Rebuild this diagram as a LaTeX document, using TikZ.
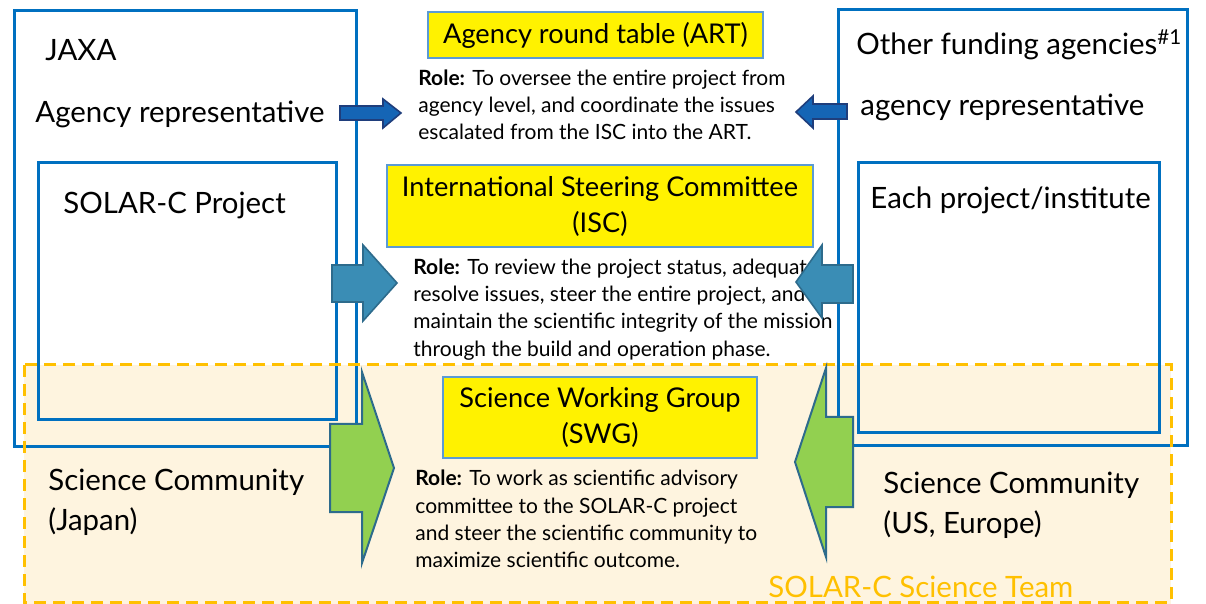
\documentclass[tikz,border=0pt]{standalone}
\usepackage{fontspec}
\setmainfont{Lato}
\definecolor{boxblue}{HTML}{0070C0}
\definecolor{teamorange}{HTML}{FFC000}
\definecolor{teamfill}{HTML}{FEF4DF}
\definecolor{iscfill}{HTML}{3A8DB5}
\definecolor{arrowedge}{HTML}{2D6B8C}
\definecolor{artfill}{HTML}{1565B5}
\definecolor{artedge}{HTML}{1F3E7C}
\definecolor{leafgreen}{HTML}{92D050}
\definecolor{titleedge}{HTML}{5B9BD5}
\begin{document}
\begin{tikzpicture}[x=0.5pt,y=-0.5pt,
  orgbox/.style={draw=boxblue,line width=1.5pt},
  teambox/.style={draw=teamorange,line width=1.5pt,dash pattern=on 6pt off 3.5pt},
  big/.style={inner sep=0pt,font=\fontsize{14.7}{20}\selectfont},
  role/.style={inner sep=0pt,align=left,font=\fontsize{10.5}{13.6}\selectfont},
  titlebox/.style={draw=titleedge,line width=0.6pt,fill=yellow,align=center,
    inner sep=0pt,font=\fontsize{13.6}{18}\selectfont},
  artarrow/.style={fill=artfill,draw=artedge,line width=0.8pt,line join=miter},
  iscarrow/.style={fill=iscfill,draw=arrowedge,line width=0.8pt,line join=miter},
  swgarrow/.style={fill=leafgreen,draw=arrowedge,line width=1pt,line join=miter}]
\useasboundingbox (0,0) rectangle (1206,604);
\fill[white] (0,0) rectangle (1206,604);

% science team area
\fill[teamfill] (24,365) rectangle (1171,604);

% organisation boxes
\draw[orgbox] (14,11) rectangle (356,447);
\draw[orgbox] (38,163) rectangle (336,420);
\draw[orgbox] (838,10) rectangle (1187,446);
\draw[orgbox] (858,163) rectangle (1159,433);

\draw[teambox] (24,365) rectangle (1171,602);

% organisation labels
\node[big,anchor=west] (jaxa) at (45,50) {JAXA};
\node[big,anchor=west] (jaxarep) at (35,114) {Agency representative};
\node[big,anchor=west] (solarc) at (63,205) {SOLAR-C Project};
\node[big,anchor=west] (other) at (856,45) {Other funding agencies\textsuperscript{\#1}};
\node[big,anchor=west] (otherrep) at (860,107) {agency representative};
\node[big,anchor=west] (each) at (870,200) {Each project/institute};
\node[big,anchor=west,align=left] (scjp) at (48,502) {Science Community\\(Japan)};
\node[big,anchor=west,align=left] (sceu) at (883,505) {Science Community\\(US, Europe)};
\node[big,anchor=base west,text=teamorange] (team) at (768,597) {SOLAR-C Science Team};

% committees
\node[titlebox,minimum width=167.5pt,minimum height=23pt] (art) at (595.5,35)
  {Agency round table (ART)};
\node[role,anchor=west] (artrole) at (418,105)
  {\textbf{Role:} To oversee the entire project from\\
   agency level, and coordinate the issues\\
   escalated from the ISC into the ART.};

\node[titlebox,minimum width=213pt,minimum height=41pt] (isc) at (600,206)
  {International Steering Committee\\(ISC)};
\node[role,anchor=west] (iscrole) at (413,309.5)
  {\textbf{Role:} To review the project status, adequat\\
   resolve issues, steer the entire project, and\\
   maintain the scientific integrity of the mission\\
   through the build and operation phase.};

\node[titlebox,minimum width=157pt,minimum height=40.5pt] (swg) at (600,417.5)
  {Science Working Group\\(SWG)};
\node[role,anchor=west] (swgrole) at (415,519)
  {\textbf{Role:} To work as scientific advisory\\
   committee to the SOLAR-C project\\
   and steer the scientific community to\\
   maximize scientific outcome.};

% arrows to the agency round table
\draw[artarrow] (340,106) -- (383,106) -- (383,99) -- (401,113) -- (383,128)
  -- (383,120) -- (340,120) -- cycle;
\draw[artarrow] (847,104) -- (813,104) -- (813,96) -- (796,112) -- (813,128)
  -- (813,119) -- (847,119) -- cycle;

% arrows to the steering committee
\draw[iscarrow] (332,265) -- (363,265) -- (363,245) -- (397,283) -- (363,321)
  -- (363,302) -- (332,302) -- cycle;
\draw[iscarrow] (853,265) -- (822,265) -- (822,245) -- (796,282) -- (822,318)
  -- (822,303) -- (853,303) -- cycle;

% arrows to the science working group
\draw[swgarrow] (330,424) -- (362,424) -- (362,372) -- (394,468) -- (362,563)
  -- (362,512) -- (330,512) -- cycle;
\draw[swgarrow] (853,417) -- (826,417) -- (826,368) -- (795,462) -- (826,557)
  -- (826,507) -- (853,507) -- cycle;
\end{tikzpicture}
\end{document}
